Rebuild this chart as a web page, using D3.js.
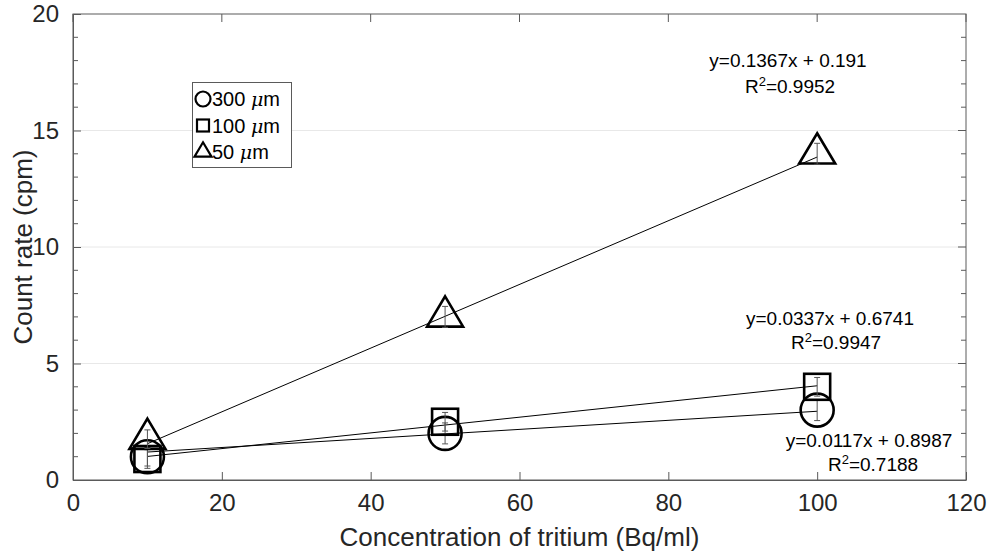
<!DOCTYPE html>
<html>
<head>
<meta charset="utf-8">
<script src="https://cdn.jsdelivr.net/npm/d3@7"></script>
<style>
  html, body { margin: 0; padding: 0; background: #fff; }
  svg { display: block; font-family: "Liberation Sans", Arial, Helvetica, sans-serif; }
</style>
</head>
<body>
<svg id="chart" width="992" height="552"></svg>
<script>
// Concentrations (Bq/ml) measured for each film thickness
const concentrations = [10, 50, 100];

// Mean count rate (cpm) and error half-widths per thickness
const series300 = [1.0, 2.0, 3.0];
const err300 = [0.4, 0.45, 0.45];
const series100 = [0.9, 2.5, 4.0];
const err100 = [0.4, 0.4, 0.4];
const series50 = [1.75, 7.0, 14.0];
const err50 = [0.4, 0.45, 0.45];

// Trend lines: count rate at x = 10 and x = 100
const trendX = [10, 100];
const trend300 = [1.2, 2.95];
const trend100 = [1.011, 4.044];
const trend50 = [1.558, 13.861];

// Fit annotations
const fitText300 = ["y=0.0117x + 0.8987", "0.7188"];
const fitText100 = ["y=0.0337x + 0.6741", "0.9947"];
const fitText50 = ["y=0.1367x + 0.191", "0.9952"];

const legendLabels = ["300", "100", "50"];
const xTicks = [0, 20, 40, 60, 80, 100, 120];
const yTicks = [0, 5, 10, 15, 20];

const svg = d3.select("#chart");
const margin = {left: 73, right: 26, top: 14, bottom: 72};
const W = 992, H = 552;
const x = d3.scaleLinear().domain([0, 120]).range([margin.left, W - margin.right]);
const y = d3.scaleLinear().domain([0, 20]).range([H - margin.bottom, margin.top]);

const axisColor = "#262626";
const lineGray = "#5a5a5a";
const tickFont = 24;

// horizontal grid at major y ticks
svg.append("g")
  .selectAll("line")
  .data(yTicks.filter(d => d > 0 && d < 20))
  .join("line")
  .attr("x1", x(0)).attr("x2", x(120))
  .attr("y1", d => y(d)).attr("y2", d => y(d))
  .attr("stroke", "#e8e8e8").attr("stroke-width", 1);

// axes with inward ticks
const xAxis = d3.axisBottom(x).tickValues(xTicks).tickSizeInner(-8).tickSizeOuter(0).tickPadding(14);
const gx = svg.append("g").attr("transform", `translate(0,${y(0)})`).call(xAxis);
const yAxis = d3.axisLeft(y).tickValues(yTicks).tickSizeInner(-8).tickSizeOuter(0).tickPadding(14);
const gy = svg.append("g").attr("transform", `translate(${x(0)},0)`).call(yAxis);
[gx, gy].forEach(g => {
  g.selectAll("path").attr("stroke", lineGray);
  g.selectAll("line").attr("stroke", lineGray);
  g.selectAll("text").attr("fill", axisColor).attr("font-size", tickFont)
    .attr("font-family", "Liberation Sans, Arial, sans-serif");
});

// minor y ticks on the left, all y ticks on the right, x ticks on top
const minorY = d3.range(1, 20).filter(d => d % 5 !== 0);
const tickG = svg.append("g").attr("stroke", lineGray).attr("stroke-width", 1);
tickG.append("g").selectAll("line").data(minorY).join("line")
  .attr("x1", x(0)).attr("x2", x(0) + 5)
  .attr("y1", d => y(d)).attr("y2", d => y(d));
tickG.append("g").selectAll("line").data(d3.range(1, 20)).join("line")
  .attr("x1", x(120)).attr("x2", d => x(120) - (d % 5 === 0 ? 8 : 5))
  .attr("y1", d => y(d)).attr("y2", d => y(d));
tickG.append("g").selectAll("line").data(xTicks).join("line")
  .attr("x1", d => x(d)).attr("x2", d => x(d))
  .attr("y1", y(20)).attr("y2", y(20) + 8);

// box
svg.append("rect")
  .attr("x", x(0)).attr("y", y(20))
  .attr("width", x(120) - x(0)).attr("height", y(0) - y(20))
  .attr("fill", "none").attr("stroke", lineGray).attr("stroke-width", 1);

// axis labels
svg.append("text")
  .attr("x", (x(0) + x(120)) / 2).attr("y", 546)
  .attr("text-anchor", "middle").attr("font-size", 26).attr("fill", axisColor)
  .text("Concentration of tritium (Bq/ml)");
svg.append("text")
  .attr("transform", `translate(32,${(y(0) + y(20)) / 2}) rotate(-90)`)
  .attr("text-anchor", "middle").attr("font-size", 26).attr("fill", axisColor)
  .text("Count rate (cpm)");

// trend lines
const trends = [trend300, trend100, trend50];
const lineGen = d3.line().x(d => x(d[0])).y(d => y(d[1]));
svg.append("g").selectAll("path").data(trends).join("path")
  .attr("d", t => lineGen(trendX.map((xx, i) => [xx, t[i]])))
  .attr("fill", "none").attr("stroke", "#000").attr("stroke-width", 1);

// marker shapes
function drawMarker(g, type, cx, cy, s) {
  if (type === "circle") {
    g.append("circle").attr("cx", cx).attr("cy", cy).attr("r", s / 2);
  } else if (type === "square") {
    g.append("rect").attr("x", cx - s / 2).attr("y", cy - s / 2).attr("width", s).attr("height", s);
  } else {
    const w = s, h = s * 0.84;
    g.append("path").attr("d",
      `M${cx},${cy - h * 0.68} L${cx + w / 2},${cy + h * 0.32} L${cx - w / 2},${cy + h * 0.32} Z`);
  }
}

const groups = [
  {vals: series300, errs: err300, type: "circle", size: 33},
  {vals: series100, errs: err100, type: "square", size: 26},
  {vals: series50, errs: err50, type: "triangle", size: 36}
];

groups.forEach(gr => {
  const mg = svg.append("g").attr("fill", "none").attr("stroke", "#000").attr("stroke-width", 2.6);
  const eg = svg.append("g").attr("stroke", "#555").attr("stroke-width", 1);
  concentrations.forEach((c, i) => {
    const cx = x(c), v = gr.vals[i], e = gr.errs[i];
    eg.append("line").attr("x1", cx).attr("x2", cx).attr("y1", y(v - e)).attr("y2", y(v + e));
    eg.append("line").attr("x1", cx - 3).attr("x2", cx + 3).attr("y1", y(v - e)).attr("y2", y(v - e));
    eg.append("line").attr("x1", cx - 3).attr("x2", cx + 3).attr("y1", y(v + e)).attr("y2", y(v + e));
    drawMarker(mg, gr.type, cx, y(v), gr.size);
  });
});

// fit annotations
function fitLabel(lines, cx1, y1, cx2, y2) {
  svg.append("text").attr("x", cx1).attr("y", y1).attr("text-anchor", "middle")
    .attr("font-size", 19).attr("fill", "#000").text(lines[0]);
  const t = svg.append("text").attr("x", cx2).attr("y", y2).attr("text-anchor", "middle")
    .attr("font-size", 19).attr("fill", "#000");
  t.append("tspan").text("R");
  t.append("tspan").attr("dy", -7).attr("font-size", 13).text("2");
  t.append("tspan").attr("dy", 7).text("=" + lines[1]);
}
fitLabel(fitText50, 788, 67, 790, 93);
fitLabel(fitText100, 830, 325, 836, 349);
fitLabel(fitText300, 869, 447, 873, 471);

// legend
const lg = svg.append("g");
lg.append("rect").attr("x", 192.5).attr("y", 82.5).attr("width", 99).attr("height", 85)
  .attr("fill", "#fff").attr("stroke", lineGray).attr("stroke-width", 1);
const legendTypes = ["circle", "square", "triangle"];
const legendSizes = [15, 12, 17];
legendLabels.forEach((lab, i) => {
  const cy = 99 + i * 26.5;
  const mg = lg.append("g").attr("fill", "none").attr("stroke", "#000").attr("stroke-width", 2.2);
  drawMarker(mg, legendTypes[i], 203, cy, legendSizes[i]);
  const t = lg.append("text").attr("x", 212).attr("y", cy + 7).attr("font-size", 20).attr("fill", "#000");
  t.append("tspan").text(lab + " ");
  t.append("tspan").attr("font-style", "italic").attr("font-family", "DejaVu Serif, serif").attr("font-size", 19).text("\u03bc");
  t.append("tspan").text("m");
});
</script>
</body>
</html>
